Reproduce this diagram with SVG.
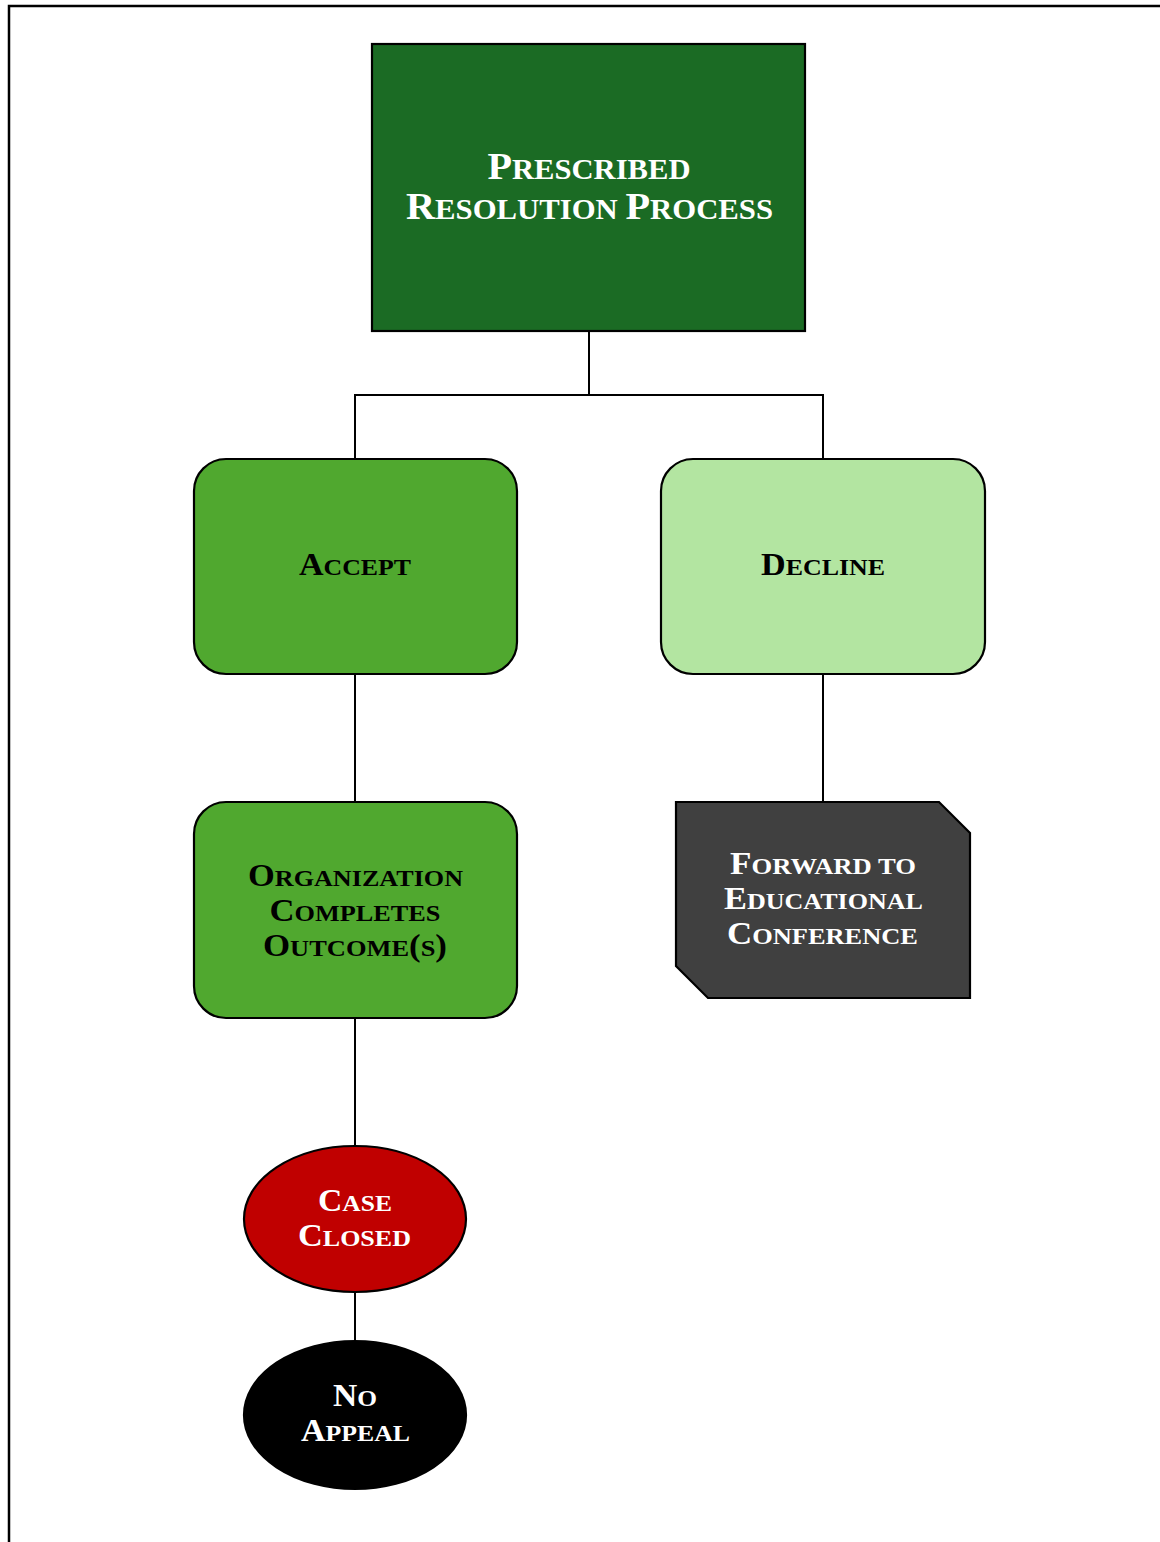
<svg xmlns="http://www.w3.org/2000/svg" width="1160" height="1542" viewBox="0 0 1160 1542">
  <style>
    .lbl { font-family: "Liberation Serif", "Times New Roman", serif; font-weight: bold; text-anchor: middle; font-size: 31px; }
    .lbl .sc { font-size: 23.5px; }
    .big { font-size: 38px; }
    .big .sc { font-size: 29px; }
    .light { fill: #ffffff; }
    .dark { fill: #000000; }
    .shape { stroke: #000000; stroke-width: 2.2; }
    .wire { stroke: #000000; stroke-width: 2; fill: none; }
  </style>
  <rect x="0" y="0" width="1160" height="1542" fill="#ffffff"/>
  <!-- page frame -->
  <path d="M9,1542 V6 H1160" fill="none" stroke="#000000" stroke-width="2.5"/>

  <g id="connectors">
    <path class="wire" d="M589,331 V395 M355,459 V395 H823 V459"/>
    <path class="wire" d="M355,674 V802"/>
    <path class="wire" d="M823,674 V802"/>
    <path class="wire" d="M355,1018 V1146"/>
    <path class="wire" d="M355,1293 V1341"/>
  </g>

  <g id="prescribed">
    <rect class="shape" x="372" y="44" width="433" height="287" fill="#1b6b24"/>
    <text class="lbl big light" x="589" y="179" textLength="203" lengthAdjust="spacingAndGlyphs">P<tspan class="sc">RESCRIBED</tspan></text>
    <text class="lbl big light" x="589.5" y="219" textLength="367" lengthAdjust="spacingAndGlyphs">R<tspan class="sc">ESOLUTION </tspan>P<tspan class="sc">ROCESS</tspan></text>
  </g>

  <g id="accept">
    <rect class="shape" x="194" y="459" width="323" height="215" rx="32" fill="#50a82f"/>
    <text class="lbl dark" x="355" y="575" textLength="112" lengthAdjust="spacingAndGlyphs">A<tspan class="sc">CCEPT</tspan></text>
  </g>

  <g id="decline">
    <rect class="shape" x="661" y="459" width="324" height="215" rx="32" fill="#b3e5a1"/>
    <text class="lbl dark" x="823" y="575" textLength="124" lengthAdjust="spacingAndGlyphs">D<tspan class="sc">ECLINE</tspan></text>
  </g>

  <g id="organization">
    <rect class="shape" x="194" y="802" width="323" height="216" rx="32" fill="#50a82f"/>
    <text class="lbl dark" x="355.5" y="886" textLength="215" lengthAdjust="spacingAndGlyphs">O<tspan class="sc">RGANIZATION</tspan></text>
    <text class="lbl dark" x="355" y="921" textLength="171" lengthAdjust="spacingAndGlyphs">C<tspan class="sc">OMPLETES</tspan></text>
    <text class="lbl dark" x="355" y="956" textLength="184" lengthAdjust="spacingAndGlyphs">O<tspan class="sc">UTCOME</tspan>(<tspan class="sc">S</tspan>)</text>
  </g>

  <g id="forward">
    <polygon class="shape" points="676,802 939,802 970,833 970,998 708,998 676,966" fill="#404040"/>
    <text class="lbl light" x="823" y="874" textLength="186" lengthAdjust="spacingAndGlyphs">F<tspan class="sc">ORWARD TO</tspan></text>
    <text class="lbl light" x="823.5" y="909" textLength="199" lengthAdjust="spacingAndGlyphs">E<tspan class="sc">DUCATIONAL</tspan></text>
    <text class="lbl light" x="822.5" y="944" textLength="191" lengthAdjust="spacingAndGlyphs">C<tspan class="sc">ONFERENCE</tspan></text>
  </g>

  <g id="case-closed">
    <ellipse class="shape" cx="355" cy="1219" rx="111" ry="73" fill="#c00000"/>
    <text class="lbl light" x="355" y="1211" textLength="74" lengthAdjust="spacingAndGlyphs">C<tspan class="sc">ASE</tspan></text>
    <text class="lbl light" x="354.5" y="1246" textLength="113" lengthAdjust="spacingAndGlyphs">C<tspan class="sc">LOSED</tspan></text>
  </g>

  <g id="no-appeal">
    <ellipse class="shape" cx="355" cy="1415" rx="111" ry="74" fill="#000000"/>
    <text class="lbl light" x="355" y="1406" textLength="44" lengthAdjust="spacingAndGlyphs">N<tspan class="sc">O</tspan></text>
    <text class="lbl light" x="355.5" y="1441" textLength="109" lengthAdjust="spacingAndGlyphs">A<tspan class="sc">PPEAL</tspan></text>
  </g>
</svg>
